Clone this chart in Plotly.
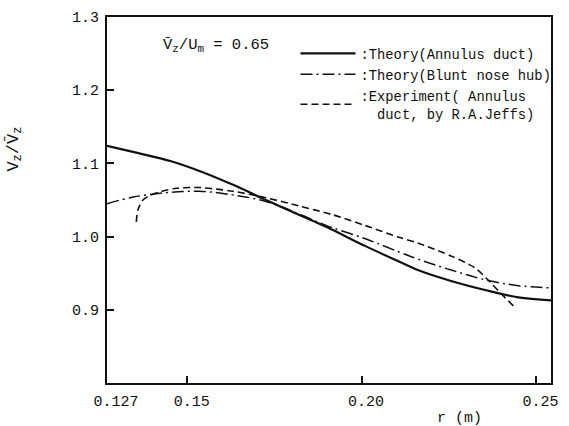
import plotly.graph_objects as go

# ---- data ----
r_theory_annulus = [0.127, 0.136, 0.1454, 0.155, 0.1635, 0.1726, 0.182, 0.190, 0.2011, 0.2107, 0.2163, 0.2259, 0.2354, 0.2449, 0.2543]
v_theory_annulus = [1.124, 1.114, 1.103, 1.087, 1.070, 1.050, 1.030, 1.013, 0.987, 0.966, 0.954, 0.939, 0.927, 0.917, 0.913]

r_theory_hub = [0.127, 0.1345, 0.144, 0.1535, 0.163, 0.1726, 0.182, 0.190, 0.2011, 0.2107, 0.2163, 0.2259, 0.2354, 0.2449, 0.2543]
v_theory_hub = [1.045, 1.054, 1.060, 1.062, 1.057, 1.048, 1.031, 1.015, 0.997, 0.979, 0.969, 0.954, 0.941, 0.933, 0.930]

r_experiment = [0.1354, 0.1359, 0.1373, 0.1392, 0.1421, 0.1469, 0.1535, 0.163, 0.1726, 0.182, 0.1916, 0.2011, 0.2107, 0.2163, 0.2259, 0.2326, 0.2364, 0.2402, 0.244]
v_experiment = [1.020, 1.037, 1.050, 1.056, 1.061, 1.066, 1.067, 1.062, 1.053, 1.042, 1.030, 1.015, 0.999, 0.991, 0.973, 0.957, 0.940, 0.921, 0.903]

x_tickvals = [0.127, 0.15, 0.20, 0.25]
x_ticktext = ["\u00a0\u00a00.127", "\u00a00.15", "\u00a00.20", "\u00a00.25"]
y_tickvals = [0.9, 1.0, 1.1, 1.2, 1.3]
y_ticktext = ["0.9", "1.0", "1.1", "1.2", "1.3"]

names = [
    ":Theory(Annulus duct)",
    ":Theory(Blunt nose hub)",
    ":Experiment( Annulus<br>&nbsp;&nbsp;duct, by R.A.Jeffs)",
]

FONT = "Liberation Mono, DejaVu Sans Mono, monospace"
INK = "#111111"

fig = go.Figure()
fig.add_trace(go.Scatter(x=r_theory_annulus, y=v_theory_annulus, mode="lines", name=names[0],
                         line=dict(color=INK, width=2.2, shape="spline", smoothing=1.0)))
fig.add_trace(go.Scatter(x=r_theory_hub, y=v_theory_hub, mode="lines", name=names[1],
                         line=dict(color=INK, width=1.5, dash="12px,4px,2px,4px", shape="spline", smoothing=1.0)))
fig.add_trace(go.Scatter(x=r_experiment, y=v_experiment, mode="lines", name=names[2],
                         line=dict(color=INK, width=1.6, dash="7px,4px", shape="spline", smoothing=0.8)))

fig.add_annotation(text="V\u0304<sub>z</sub>/U<sub>m</sub> = 0.65", xref="paper", yref="paper",
                   x=0.2466, y=0.923, xanchor="center", yanchor="middle", showarrow=False,
                   font=dict(family=FONT, size=15.5, color=INK))
fig.add_annotation(text="V<sub>z</sub>/V\u0304<sub>z</sub>", xref="paper", yref="paper",
                   x=-0.207, y=0.638, xanchor="center", yanchor="middle", showarrow=False, textangle=-90,
                   font=dict(family=FONT, size=17, color=INK))
fig.add_annotation(text="r (m)", xref="paper", yref="paper",
                   x=0.795, y=-0.096, xanchor="center", yanchor="middle", showarrow=False,
                   font=dict(family=FONT, size=15, color=INK))

fig.update_xaxes(range=[0.127, 0.2543], tickvals=x_tickvals, ticktext=x_ticktext,
                 ticks="inside", ticklen=7, tickwidth=1.5, tickcolor=INK, ticklabelstandoff=3,
                 showline=True, linewidth=2, linecolor=INK, mirror=True,
                 showgrid=False, zeroline=False,
                 tickfont=dict(family=FONT, size=15, color=INK))
fig.update_yaxes(range=[0.8, 1.3], tickvals=y_tickvals, ticktext=y_ticktext,
                 ticks="inside", ticklen=7, tickwidth=1.5, tickcolor=INK, ticklabelstandoff=3,
                 showline=True, linewidth=2, linecolor=INK, mirror=True,
                 showgrid=False, zeroline=False,
                 tickfont=dict(family=FONT, size=15, color=INK))

fig.update_layout(
    width=569, height=426,
    margin=dict(l=107, r=18, t=10, b=43),
    paper_bgcolor="white", plot_bgcolor="white",
    showlegend=True,
    legend=dict(x=0.4245, y=0.943, xanchor="left", yanchor="top",
                bgcolor="rgba(0,0,0,0)", itemwidth=55, tracegroupgap=0,
                font=dict(family=FONT, size=13.8, color=INK)),
)

fig.write_html("out.html")
